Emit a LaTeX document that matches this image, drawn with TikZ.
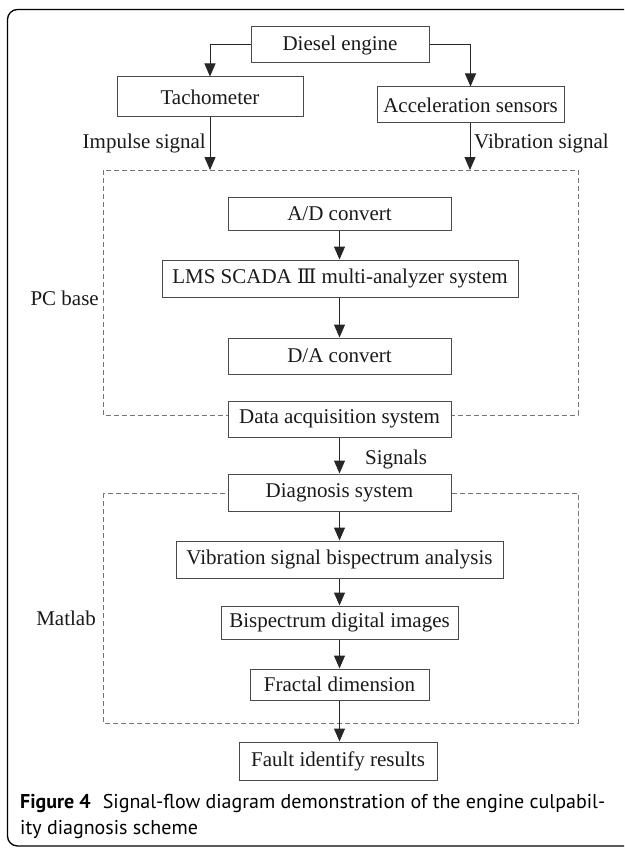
\documentclass[tikz,border=0pt]{standalone}
\usepackage{fontspec}
\setmainfont{Liberation Serif}
\newfontfamily\capfont{PT Sans}
\newfontfamily\romfont{DejaVu Serif}
\usetikzlibrary{arrows.meta}
\definecolor{boxline}{HTML}{4A4A4A}
\definecolor{dashline}{HTML}{777777}
\definecolor{txt}{HTML}{1A1A1A}
\begin{document}
\begin{tikzpicture}[x=1pt,y=-1pt,
  box/.style={draw=boxline,line width=1pt,fill=white,inner sep=0pt,text=txt,
    font=\fontsize{21}{25}\selectfont},
  lbl/.style={inner sep=0pt,text=txt,font=\fontsize{21}{25}\selectfont},
  flow/.style={draw=black!85,line width=1pt,-{Triangle[length=13pt,width=11pt]}},
  group/.style={draw=dashline,line width=1pt,dash pattern=on 5pt off 3pt},
  captxt/.style={inner sep=0pt,text=black,font=\capfont\fontsize{20}{26}\selectfont}]
\clip (0,0) rectangle (624,848);
\fill[white] (0,0) rectangle (624,848);
% outer frame
\draw[black,line width=1.3pt,rounded corners=10pt] (700,9.5) -- (7.5,9.5) -- (7.5,846) -- (700,846);
% dashed groups
\draw[group] (103,170) rectangle (578,415);
\draw[group] (103,493) rectangle (578,723);
% nodes
\node[box,minimum width=178pt,minimum height=36pt] (diesel) at (340,45) {Diesel engine};
\node[box,minimum width=186pt,minimum height=40pt] (tacho) at (210,97) {Tachometer};
\node[box,minimum width=187pt,minimum height=36pt] (accel) at (470.5,105) {Acceleration sensors};
\node[box,minimum width=223pt,minimum height=33pt] (ad) at (339.5,213.5) {A/D convert};
\node[box,minimum width=356pt,minimum height=37pt] (lms) at (340,278.5) {LMS SCADA {\romfont\fontsize{20}{25}\selectfont Ⅲ} multi-analyzer system};
\node[box,minimum width=223pt,minimum height=36pt] (da) at (339.5,356) {D/A convert};
\node[box,minimum width=223pt,minimum height=36pt] (daq) at (339.5,419) {Data acquisition system};
\node[box,minimum width=223pt,minimum height=37pt] (diag) at (339.5,492.5) {Diagnosis system};
\node[box,minimum width=327pt,minimum height=37pt] (vib) at (339.5,559.5) {Vibration signal bispectrum analysis};
\node[box,minimum width=237pt,minimum height=33pt] (bis) at (339.5,622.5) {Bispectrum digital images};
\node[box,minimum width=179pt,minimum height=31pt] (frac) at (339.5,684.5) {Fractal dimension};
\node[box,minimum width=198pt,minimum height=38pt] (fault) at (338,761) {Fault identify results};
% labels
\node[lbl,anchor=base east] (imp) at (206,149) {Impulse signal};
\node[lbl,anchor=base west] (vibl) at (474,149) {Vibration signal};
\node[lbl,anchor=base east] (pc) at (99,305) {PC base};
\node[lbl,anchor=base east] (mat) at (96,625) {Matlab};
\node[lbl,anchor=base west] (sig) at (365,464) {Signals};
% free ends on the dashed box
\coordinate (impend) at (210,170);
\coordinate (vibend) at (470,170);
% connectors
\draw[flow] (diesel.west) -| (tacho.north);
\draw[flow] (diesel.east) -| (accel.north);
\draw[flow] (tacho.south) -- (impend);
\draw[flow] (accel.south -| vibend) -- (vibend);
\draw[flow] (ad.south) -- (ad.south |- lms.north);
\draw[flow] (ad.south |- lms.south) -- (ad.south |- da.north);
\draw[flow] (daq.south) -- (diag.north);
\draw[flow] (diag.south) -- (vib.north);
\draw[flow] (diag.south |- vib.south) -- (bis.north);
\draw[flow] (bis.south) -- (frac.north);
\draw[flow] (frac.south) -- (frac.south |- fault.north);
% caption
\node[captxt,anchor=base west] (cap1) at (20,808) {\textbf{Figure 4}\hspace{0.6em}Signal-flow diagram demonstration of the engine culpabil-};
\node[captxt,anchor=base west] (cap2) at (20,834) {ity diagnosis scheme};
\end{tikzpicture}
\end{document}
